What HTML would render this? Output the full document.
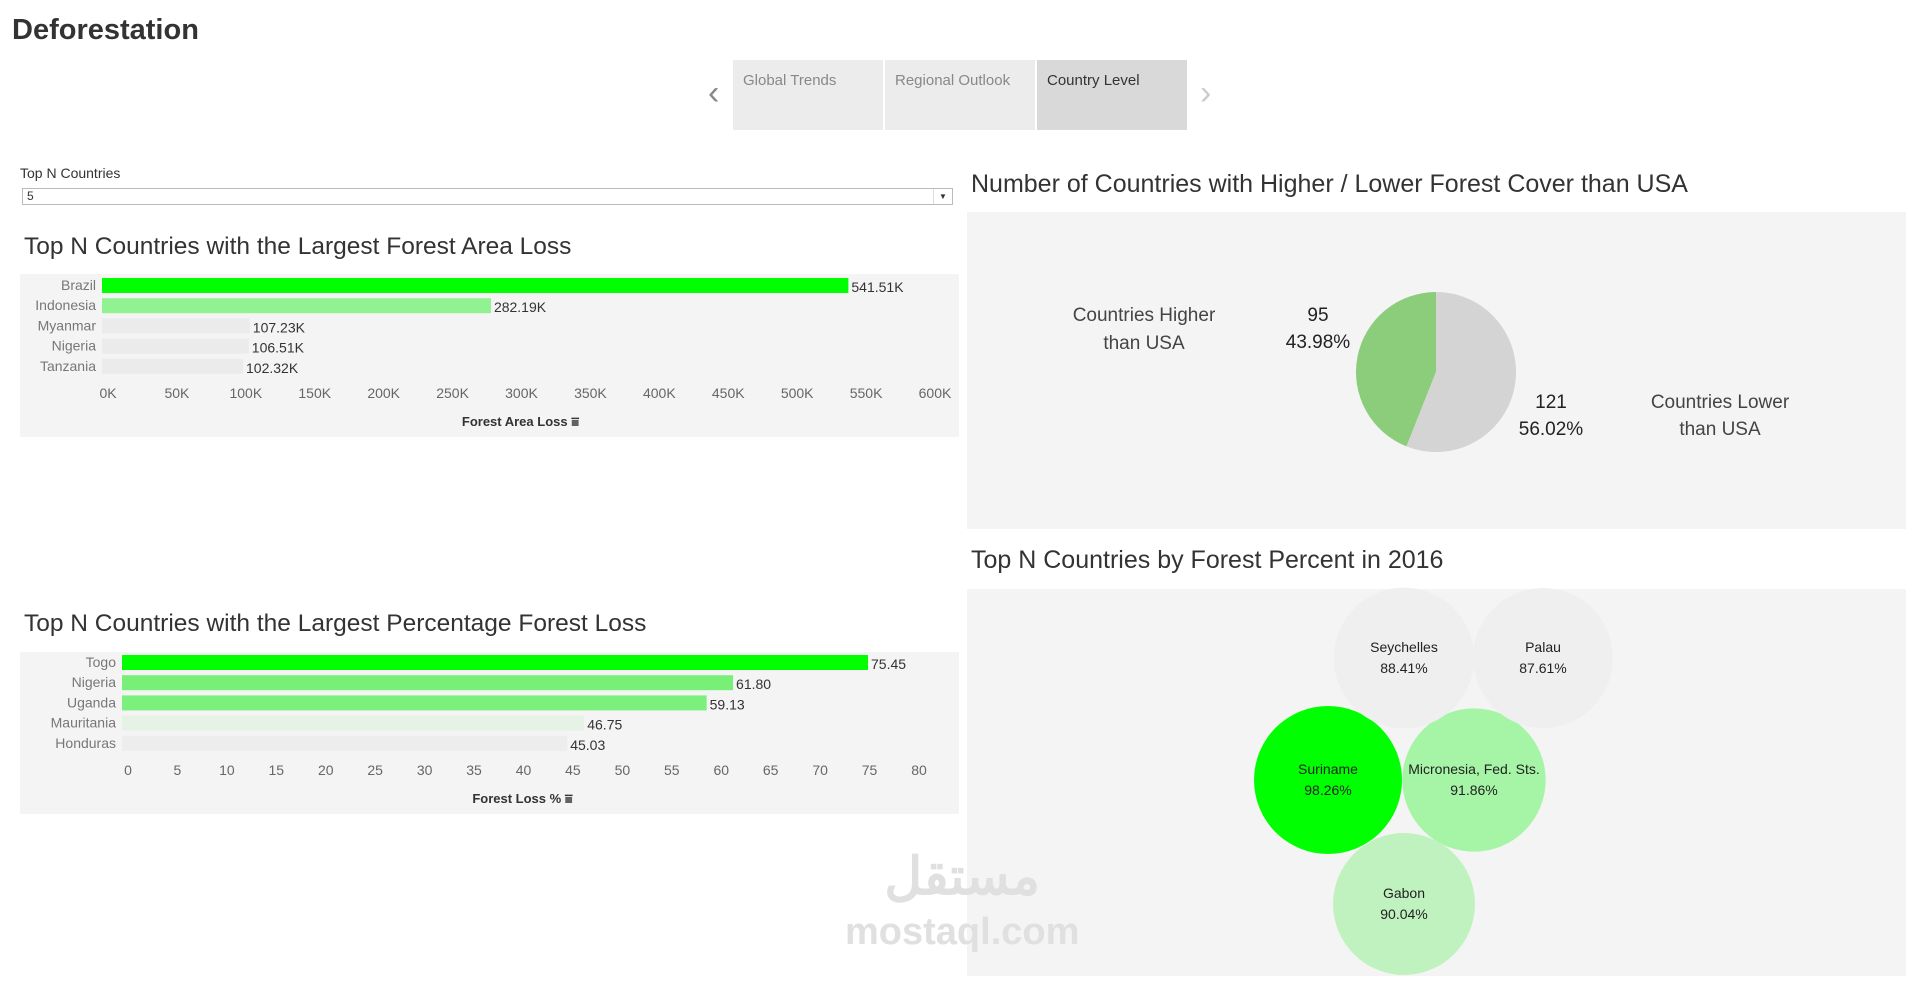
<!DOCTYPE html>
<html><head><meta charset="utf-8">
<style>
body{margin:0;width:1919px;height:989px;background:#fff;font-family:"Liberation Sans",sans-serif;overflow:hidden;position:relative}
.abs{position:absolute}
.tab{position:absolute;top:60px;height:70px;width:150px;background:#ececec;color:#888;font-size:15px;box-sizing:border-box;padding:12px 10px}
.panel{position:absolute;background:#f4f4f4}
.title{position:absolute;font-size:25px;color:#333;white-space:nowrap}
svg text{font-family:"Liberation Sans",sans-serif}
</style></head><body>
<div class="abs" style="left:12px;top:14px;font-size:29px;font-weight:bold;color:#333">Deforestation</div>
<div class="abs" style="left:708px;top:74px;font-size:34px;color:#888">&#8249;</div>
<div class="tab" style="left:733px">Global Trends</div>
<div class="tab" style="left:885px">Regional Outlook</div>
<div class="tab" style="left:1037px;background:#d9d9d9;color:#333">Country Level</div>
<div class="abs" style="left:1200px;top:74px;font-size:34px;color:#ccc">&#8250;</div>

<div class="abs" style="left:20px;top:165px;font-size:14px;color:#333">Top N Countries</div>
<div class="abs" style="left:22px;top:188px;width:931px;height:17px;border:1px solid #bbb;background:#fff;font-size:12px;color:#333;box-sizing:border-box;padding-left:4px;line-height:15px">5<span style="position:absolute;right:0;top:0;width:18px;height:15px;border-left:1px solid #ddd;text-align:center;font-size:8px">&#9660;</span></div>

<div class="title" style="left:24px;top:233px;font-size:24.5px">Top N Countries with the Largest Forest Area Loss</div>
<div class="panel" style="left:20px;top:274px;width:939px;height:163px"></div>
<svg id="c1" class="abs" style="left:0;top:0" width="960" height="989"></svg>

<div class="title" style="left:24px;top:610px;font-size:24.5px">Top N Countries with the Largest Percentage Forest Loss</div>
<div class="panel" style="left:20px;top:652px;width:939px;height:162px"></div>
<svg id="c2" class="abs" style="left:0;top:0" width="960" height="989"></svg>

<div class="title" style="left:971px;top:170px">Number of Countries with Higher / Lower Forest Cover than USA</div>
<div class="panel" style="left:967px;top:212px;width:939px;height:317px"></div>
<div class="title" style="left:971px;top:546px">Top N Countries by Forest Percent in 2016</div>
<div class="panel" style="left:967px;top:589px;width:939px;height:387px"></div>
<div class="abs" style="left:845px;top:852px;color:#e0e0e0;font-size:52px;font-weight:bold;text-align:center;line-height:50px">مستقل<br><span style="font-size:38px">mostaql.com</span></div>
<svg id="c3" class="abs" style="left:0;top:0" width="1919" height="989"></svg>

<script>
const NS="http://www.w3.org/2000/svg";
function mk(svg,tag,attrs,txt){const e=document.createElementNS(NS,tag);for(const k in attrs)e.setAttribute(k,attrs[k]);if(txt!==undefined)e.textContent=txt;svg.appendChild(e);return e;}

// Chart 1 data
const areaCountries=["Brazil","Indonesia","Myanmar","Nigeria","Tanzania"];
const areaValues=[541.51,282.19,107.23,106.51,102.32];
const areaColors=["#00ff00","#90f290","#ebebeb","#ebebeb","#ebebeb"];
const areaTicks=[0,50,100,150,200,250,300,350,400,450,500,550,600];

// Chart 2 data
const pctCountries=["Togo","Nigeria","Uganda","Mauritania","Honduras"];
const pctValues=[75.45,61.80,59.13,46.75,45.03];
const pctColors=["#00ff00","#78f078","#7cf07c","#e6f2e6","#ededed"];
const pctTicks=[0,5,10,15,20,25,30,35,40,45,50,55,60,65,70,75,80];

// Pie data
const pieLabels=["Countries Higher than USA","Countries Lower than USA"];
const pieValues=[95,121];

// Bubble data
const bubbleNames=["Suriname","Micronesia, Fed. Sts.","Gabon","Seychelles","Palau"];
const bubbleValues=[98.26,91.86,90.04,88.41,87.61];

function barChart(svg,cats,vals,cols,ticks,x0,x1,max,y0,dy,tickY,title,titleY,fmt){
  const sx=v=>x0+(v/max)*(x1-x0);
  cats.forEach((c,i)=>{
    const y=y0+i*dy;
    let r=mk(svg,"rect",{x:x0,y:y-7,width:sx(vals[i])-x0,height:15,fill:cols[i]});
    
    
    let t=mk(svg,"text",{x:x0-6,y:y+5,"text-anchor":"end","font-size":14,fill:"#777"},c);
    
    
    let v=mk(svg,"text",{x:sx(vals[i])+3,y:y+7,"font-size":14,fill:"#333"},fmt(vals[i]));
    
    
  });
  ticks.forEach(tk=>{
    let t=mk(svg,"text",{x:sx(tk)+6,y:tickY,"text-anchor":"middle","font-size":14,fill:"#666"},fmt===f1?tk+"K":tk);
    
    
  });
  let at=mk(svg,"text",{x:(x0+x1)/2+5,y:titleY,"text-anchor":"middle","font-size":13,"font-weight":"bold",fill:"#333"},title+" ⩸");
  
  
}
const f1=v=>v.toFixed(2)+"K";
const f2=v=>v.toFixed(2);
barChart(document.getElementById("c1"),areaCountries,areaValues,areaColors,areaTicks,102,929,600,285,20.2,398,"Forest Area Loss",426,f1);
barChart(document.getElementById("c2"),pctCountries,pctValues,pctColors,pctTicks,122,913,80,662,20.2,775,"Forest Loss %",803,f2);

// Pie
const s3=document.getElementById("c3");
const cx=1436,cy=372,R=80;
const tot=pieValues.reduce((a,b)=>a+b,0);
const a1=-Math.PI/2-2*Math.PI*pieValues[0]/tot;
function arc(sa,ea,col,name){
  const large=(ea-sa)>Math.PI?1:0;
  const d=`M${cx},${cy} L${cx+R*Math.cos(sa)},${cy+R*Math.sin(sa)} A${R},${R} 0 ${large} 1 ${cx+R*Math.cos(ea)},${cy+R*Math.sin(ea)} Z`;
  const p=mk(s3,"path",{d:d,fill:col});
  
  
}
arc(a1,-Math.PI/2,"#8bcd7b","pie-slice-higher");
arc(-Math.PI/2,a1+2*Math.PI,"#d4d4d4","pie-slice-lower");
function lbl(x,y,txt,size,col,name){const t=mk(s3,"text",{x:x,y:y,"text-anchor":"middle","font-size":size,fill:col},txt);

}
lbl(1144,321,"Countries Higher",19,"#444","pie-label-higher");
lbl(1144,349,"than USA",19,"#444","pie-label-higher-2");
lbl(1318,321,String(pieValues[0]),19,"#222","pie-count-higher");
lbl(1318,348,(pieValues[0]/tot*100).toFixed(2)+"%",19,"#222","pie-pct-higher");
lbl(1551,408,String(pieValues[1]),19,"#222","pie-count-lower");
lbl(1551,435,(pieValues[1]/tot*100).toFixed(2)+"%",19,"#222","pie-pct-lower");
lbl(1720,408,"Countries Lower",19,"#444","pie-label-lower");
lbl(1720,435,"than USA",19,"#444","pie-label-lower-2");

// Bubbles: layout positions (packing slots), size/color from values
const slots=[[1328,780],[1474,780],[1404,904],[1404,658],[1543,658]];
const vmin=Math.min(...bubbleValues),vmax=Math.max(...bubbleValues);
bubbleNames.forEach((n,i)=>{
  const v=bubbleValues[i];
  const r=70*Math.sqrt(v/vmin);
  const t=(v-vmin)/(vmax-vmin);
  const g=t>0.9?"#00ff00":t>0.3?"#a6f5a6":t>0.15?"#c0f2c0":"#efefef";
  const c=mk(s3,"circle",{cx:slots[i][0],cy:slots[i][1],r:Math.min(r,74),fill:g});
  
  
  lbl(slots[i][0],slots[i][1]-6,n,14,"#222","bubble-name");
  lbl(slots[i][0],slots[i][1]+15,v.toFixed(2)+"%",14,"#222","bubble-value");
});
</script>
</body></html>
